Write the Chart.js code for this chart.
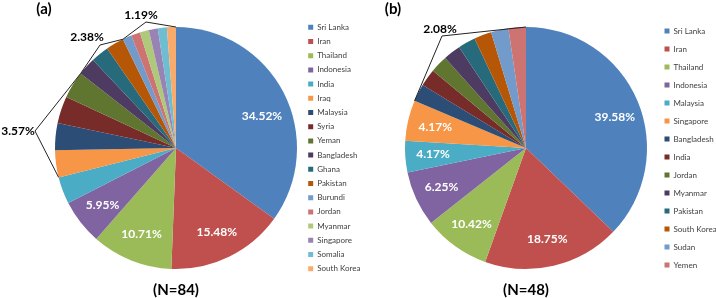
<!DOCTYPE html>
<html lang="en">
<head>
<meta charset="UTF-8">
<title>Pies</title>
<script src="https://cdn.jsdelivr.net/npm/chart.js"></script>
<style>
    body {
        margin: 0;
        background: #fff;
        width: 716px;
        height: 298px;
        position: relative;
        overflow: hidden;
    }
    .box {
        position: absolute;
        top: 0;
        height: 298px;
    }
    #boxA { left: 0; width: 390px; }
    #boxB { left: 358px; width: 380px; }
</style>
</head>
<body>
<div class="box" id="boxA"><canvas id="chartA"></canvas></div>
<div class="box" id="boxB"><canvas id="chartB"></canvas></div>

<script>
// (a) N=84
const countriesA = ['Sri Lanka', 'Iran', 'Thailand', 'Indonesia', 'India', 'Iraq', 'Malaysia', 'Syria', 'Yeman',
    'Bangladesh', 'Ghana', 'Pakistan', 'Burundi', 'Jordan', 'Myanmar', 'Singapore', 'Somalia', 'South Korea'];
const percentA = [34.52, 15.48, 10.71, 5.95, 3.57, 3.57, 3.57, 3.57, 3.57,
    2.38, 2.38, 2.38, 1.19, 1.19, 1.19, 1.19, 1.19, 1.19];
const labelsA = percentA.map(v => v.toFixed(2) + '%');

// (b) N=48 -- slice sizes as drawn in the figure (they don't quite follow the printed labels)
const countriesB = ['Sri Lanka', 'Iran', 'Thailand', 'Indonesia', 'Malaysia', 'Singapore', 'Bangladesh', 'India',
    'Jordan', 'Myanmar', 'Pakistan', 'South Korea', 'Sudan', 'Yemen'];
const sliceB = [37.2, 18.3, 8.9, 7.4, 4.2, 5.4, 2.33, 2.33, 2.33, 2.33, 2.33, 2.33, 2.33, 2.33];
const labelsB = ['39.58%', '18.75%', '10.42%', '6.25%', '4.17%', '4.17%',
    '2.08%', '2.08%', '2.08%', '2.08%', '2.08%', '2.08%', '2.08%', '2.08%'];

// excel 2010 palette: accents, then darker, then lighter
const palette = ['#4F81BD', '#C0504D', '#9BBB59', '#8064A2', '#4BACC6', '#F79646',
    '#2C4D75', '#772C2A', '#5F7530', '#4D3B62', '#276A7C', '#B65708',
    '#729ACA', '#CD7371', '#AFC97A', '#9983B5', '#6FBDD1', '#F9AB6B'];

const FONT = 'Lato, "Open Sans", sans-serif';

const pieText = {
    id: 'pieText',
    afterDraw(chart, args, opts) {
        const ctx = chart.ctx;
        const arcs = chart.getDatasetMeta(0).data;
        const cx = arcs[0].x, cy = arcs[0].y, r = arcs[0].outerRadius;
        const pt = (a, rr) => [cx + rr * Math.cos(a), cy + rr * Math.sin(a)];

        ctx.save();
        ctx.textAlign = 'center';
        ctx.textBaseline = 'middle';

        // percentages inside the big slices
        ctx.fillStyle = '#fff';
        ctx.font = 'bold 12px ' + FONT;
        for (let i = 0; i < opts.inside; i++) {
            const a = (arcs[i].startAngle + arcs[i].endAngle) / 2;
            let [x, y] = pt(a, r * 0.77);
            const nd = (opts.nudge || {})[i];
            if (nd) { x += nd[0]; y += nd[1]; }
            ctx.fillText(opts.labels[i], x, y);
        }

        // grouped labels with bracket lines
        ctx.strokeStyle = '#222';
        ctx.lineWidth = 1;
        ctx.fillStyle = '#000';
        opts.groups.forEach(g => {
            const [p1x, p1y] = pt(arcs[g.from].startAngle, r);
            const [p2x, p2y] = pt(arcs[g.to].endAngle, r);
            ctx.beginPath();
            ctx.moveTo(p1x, p1y);
            ctx.lineTo(g.vx, g.vy);
            ctx.lineTo(p2x, p2y);
            ctx.stroke();
            ctx.fillText(opts.labels[g.from], g.tx, g.ty);
        });

        // panel tag and sample size
        ctx.font = 'bold 15px ' + FONT;
        ctx.fillText(opts.tag, opts.tagX, 9);
        ctx.fillText(opts.n, cx, 290);
        ctx.restore();
    }
};

function makePie(id, labels, data, padLeft, legendPad, legendLeft, textOpts) {
    const chart = new Chart(document.getElementById(id), {
        type: 'pie',
        data: {
            labels,
            datasets: [{
                data,
                backgroundColor: palette.slice(0, data.length),
                borderWidth: 0,
                radius: 121
            }]
        },
        options: {
            responsive: true,
            maintainAspectRatio: false,
            animation: false,
            layout: { padding: { left: padLeft, right: 0, top: 0, bottom: 2 } },
            plugins: {
                legend: {
                    position: 'right',
                    align: 'center',
                    labels: {
                        boxWidth: 5,
                        boxHeight: 5,
                        padding: legendPad,
                        color: '#404040',
                        font: { family: FONT, size: 8 }
                    }
                },
                tooltip: { enabled: false },
                pieText: textOpts
            }
        },
        plugins: [pieText]
    });
    // push the legend so it starts where the figure has it
    chart.options.layout.padding.right = Math.max(0, chart.legend.left - legendLeft);
    chart.update();
    return chart;
}

makePie('chartA', countriesA, percentA, 50, 6.2, 302, {
    inside: 4,
    labels: labelsA,
    nudge: { 0: [3, 11] },
    tag: '(a)', tagX: 44, n: '(N=84)',
    groups: [
        { from: 5, to: 8, vx: 35, vy: 131, tx: 18, ty: 131 },
        { from: 9, to: 11, vx: 100, vy: 45, tx: 87, ty: 37 },
        { from: 12, to: 17, vx: 146, vy: 22, tx: 141, ty: 15 }
    ]
});

makePie('chartB', countriesB, sliceB, 39.5, 10, 296.5, {
    inside: 6,
    labels: labelsB,
    nudge: { 0: [3, 6] },
    tag: '(b)', tagX: 35, n: '(N=48)',
    groups: [
        { from: 6, to: 13, vx: 84, vy: 36, tx: 82, ty: 29 }
    ]
});
</script>
</body>
</html>
